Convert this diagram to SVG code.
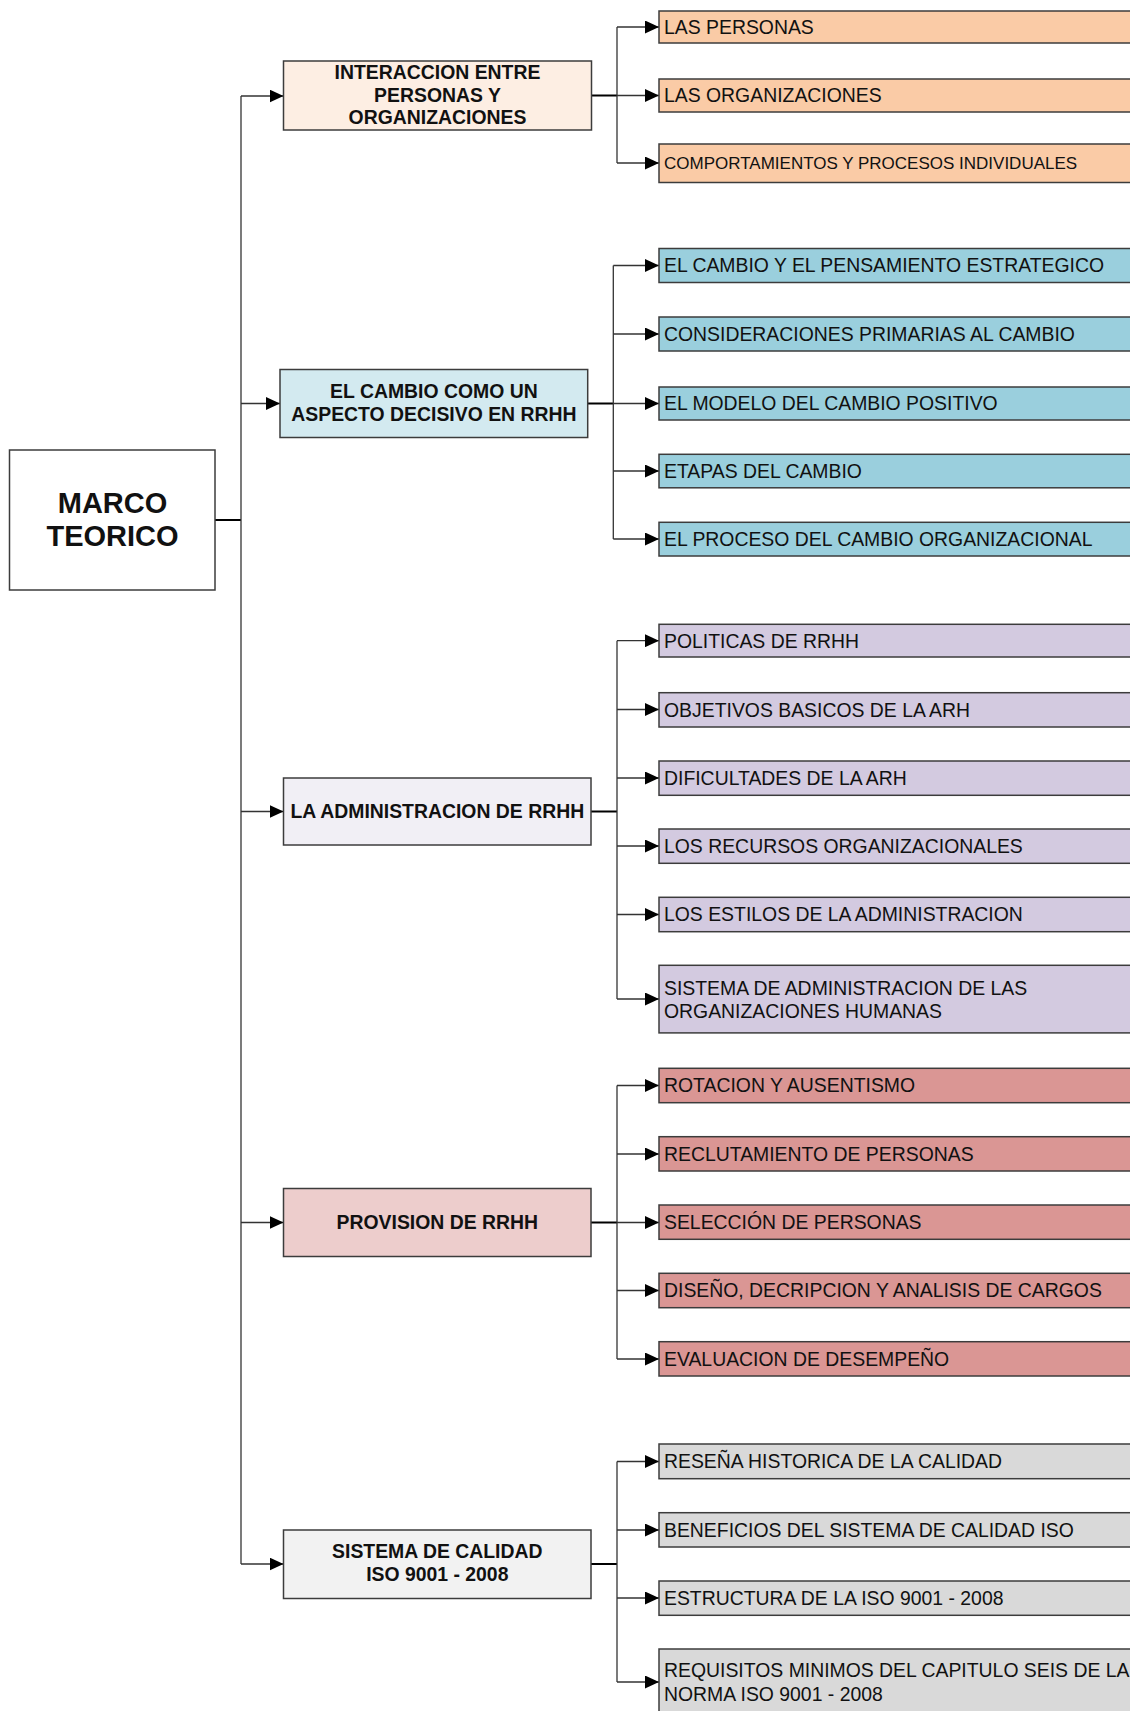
<svg xmlns="http://www.w3.org/2000/svg" width="1130" height="1711" viewBox="0 0 1130 1711">
  <defs>
    <marker id="arrow" markerUnits="userSpaceOnUse" markerWidth="14" markerHeight="13" refX="14" refY="6.5" orient="auto">
      <path d="M0,0 L14,6.5 L0,13 Z" fill="#000"/>
    </marker>
    <style>
      .box { stroke: #3c3c3c; stroke-width: 1.5; }
      .root { fill: #ffffff; }
      .t1 { font-family: "Liberation Sans", Arial, sans-serif; font-weight: bold; font-size: 19.4px; fill: #111; text-anchor: middle; }
      .t0 { font-family: "Liberation Sans", Arial, sans-serif; font-weight: bold; font-size: 29px; fill: #111; text-anchor: middle; }
      .t2 { font-family: "Liberation Sans", Arial, sans-serif; font-size: 19.4px; fill: #111; }
      .t2s { font-family: "Liberation Sans", Arial, sans-serif; font-size: 17px; fill: #111; }
      .link { fill: none; stroke: #333; stroke-width: 1.3; }
      .stem { fill: none; stroke: #000; stroke-width: 2; }
      .arr { fill: none; stroke: #333; stroke-width: 1.3; marker-end: url(#arrow); }
      .c1 { fill: #fdeee3; } .k1 { fill: #facba6; }
      .c2 { fill: #d3eaf0; } .k2 { fill: #9acfdd; }
      .c3 { fill: #f1eff5; } .k3 { fill: #d3cae0; }
      .c4 { fill: #edcdcc; } .k4 { fill: #da9694; }
      .c5 { fill: #f2f2f2; } .k5 { fill: #d9d9d9; }
    </style>
  </defs>
  <rect width="1130" height="1711" fill="#ffffff"/>

  <!-- connectors -->
  <g id="connectors">
    <!-- root to trunk -->
    <path class="stem" d="M215,520 H241"/>
    <path class="link" d="M241,96 V1564"/>
    <path class="arr" d="M241,96 H283.5"/>
    <path class="arr" d="M241,403.5 H280"/>
    <path class="arr" d="M241,811.5 H283.5"/>
    <path class="arr" d="M241,1222.5 H283.5"/>
    <path class="arr" d="M241,1564 H283.5"/>

    <!-- group 1 -->
    <path class="stem" d="M591.5,95.5 H617"/>
    <path class="link" d="M617,27 V163"/>
    <path class="arr" d="M617,27 H659"/>
    <path class="arr" d="M617,95.5 H659"/>
    <path class="arr" d="M617,163 H659"/>

    <!-- group 2 -->
    <path class="stem" d="M587.7,403.5 H613.3"/>
    <path class="link" d="M613.3,265.5 V539"/>
    <path class="arr" d="M613.3,265.5 H659"/>
    <path class="arr" d="M613.3,334 H659"/>
    <path class="arr" d="M613.3,403.5 H659"/>
    <path class="arr" d="M613.3,471 H659"/>
    <path class="arr" d="M613.3,539 H659"/>

    <!-- group 3 -->
    <path class="stem" d="M591,811.5 H617"/>
    <path class="link" d="M617,640.7 V999"/>
    <path class="arr" d="M617,640.7 H659"/>
    <path class="arr" d="M617,709.5 H659"/>
    <path class="arr" d="M617,778 H659"/>
    <path class="arr" d="M617,846 H659"/>
    <path class="arr" d="M617,914.5 H659"/>
    <path class="arr" d="M617,999 H659"/>

    <!-- group 4 -->
    <path class="stem" d="M591,1222.5 H617"/>
    <path class="link" d="M617,1085.5 V1359"/>
    <path class="arr" d="M617,1085.5 H659"/>
    <path class="arr" d="M617,1154 H659"/>
    <path class="arr" d="M617,1222.5 H659"/>
    <path class="arr" d="M617,1290.5 H659"/>
    <path class="arr" d="M617,1359 H659"/>

    <!-- group 5 -->
    <path class="stem" d="M591,1564 H617"/>
    <path class="link" d="M617,1461.5 V1682"/>
    <path class="arr" d="M617,1461.5 H659"/>
    <path class="arr" d="M617,1530 H659"/>
    <path class="arr" d="M617,1598 H659"/>
    <path class="arr" d="M617,1682 H659"/>
  </g>

  <!-- root -->
  <g id="marco-teorico">
    <rect class="box root" x="9.5" y="450" width="205.5" height="140"/>
    <text class="t0" x="112.5" y="512.5">MARCO</text>
    <text class="t0" x="112.5" y="545.5">TEORICO</text>
  </g>

  <!-- first level -->
  <g id="interaccion">
    <rect class="box c1" x="283.5" y="61" width="308" height="69"/>
    <text class="t1" x="437.5" y="78.5">INTERACCION ENTRE</text>
    <text class="t1" x="437.5" y="101.5">PERSONAS Y</text>
    <text class="t1" x="437.5" y="124">ORGANIZACIONES</text>
  </g>
  <g id="el-cambio">
    <rect class="box c2" x="280" y="369.5" width="307.7" height="68"/>
    <text class="t1" x="433.9" y="398">EL CAMBIO COMO UN</text>
    <text class="t1" x="433.9" y="421">ASPECTO DECISIVO EN RRHH</text>
  </g>
  <g id="administracion">
    <rect class="box c3" x="283.5" y="778" width="307.5" height="67"/>
    <text class="t1" x="437.3" y="818">LA ADMINISTRACION DE RRHH</text>
  </g>
  <g id="provision">
    <rect class="box c4" x="283.5" y="1188.5" width="307.5" height="68"/>
    <text class="t1" x="437.3" y="1229">PROVISION DE RRHH</text>
  </g>
  <g id="calidad">
    <rect class="box c5" x="283.5" y="1530" width="307.5" height="68.5"/>
    <text class="t1" x="437.3" y="1558">SISTEMA DE CALIDAD</text>
    <text class="t1" x="437.3" y="1581">ISO 9001 - 2008</text>
  </g>

  <!-- group 1 topics -->
  <g id="las-personas">
    <rect class="box k1" x="659" y="11" width="480" height="32"/>
    <text class="t2" x="664" y="33.5">LAS PERSONAS</text>
  </g>
  <g id="las-organizaciones">
    <rect class="box k1" x="659" y="79" width="480" height="33"/>
    <text class="t2" x="664" y="102">LAS ORGANIZACIONES</text>
  </g>
  <g id="comportamientos">
    <rect class="box k1" x="659" y="144" width="480" height="38.5"/>
    <text class="t2s" x="664" y="169">COMPORTAMIENTOS Y PROCESOS INDIVIDUALES</text>
  </g>

  <!-- group 2 topics -->
  <g id="cambio-estrategico">
    <rect class="box k2" x="659" y="248.5" width="480" height="34"/>
    <text class="t2" x="664" y="272.3">EL CAMBIO Y EL PENSAMIENTO ESTRATEGICO</text>
  </g>
  <g id="consideraciones">
    <rect class="box k2" x="659" y="317" width="480" height="34"/>
    <text class="t2" x="664" y="340.8">CONSIDERACIONES PRIMARIAS AL CAMBIO</text>
  </g>
  <g id="modelo-cambio">
    <rect class="box k2" x="659" y="387" width="480" height="33"/>
    <text class="t2" x="664" y="410.3">EL MODELO DEL CAMBIO POSITIVO</text>
  </g>
  <g id="etapas">
    <rect class="box k2" x="659" y="454.3" width="480" height="33.5"/>
    <text class="t2" x="664" y="477.8">ETAPAS DEL CAMBIO</text>
  </g>
  <g id="proceso-cambio">
    <rect class="box k2" x="659" y="522.3" width="480" height="33.7"/>
    <text class="t2" x="664" y="546">EL PROCESO DEL CAMBIO ORGANIZACIONAL</text>
  </g>

  <!-- group 3 topics -->
  <g id="politicas">
    <rect class="box k3" x="659" y="624.3" width="480" height="32.7"/>
    <text class="t2" x="664" y="647.5">POLITICAS DE RRHH</text>
  </g>
  <g id="objetivos">
    <rect class="box k3" x="659" y="692.7" width="480" height="34.3"/>
    <text class="t2" x="664" y="716.5">OBJETIVOS BASICOS DE LA ARH</text>
  </g>
  <g id="dificultades">
    <rect class="box k3" x="659" y="761" width="480" height="34.3"/>
    <text class="t2" x="664" y="784.8">DIFICULTADES DE LA ARH</text>
  </g>
  <g id="recursos">
    <rect class="box k3" x="659" y="829" width="480" height="34.3"/>
    <text class="t2" x="664" y="852.8">LOS RECURSOS ORGANIZACIONALES</text>
  </g>
  <g id="estilos">
    <rect class="box k3" x="659" y="897.3" width="480" height="34.4"/>
    <text class="t2" x="664" y="921.2">LOS ESTILOS DE LA ADMINISTRACION</text>
  </g>
  <g id="sistema-administracion">
    <rect class="box k3" x="659" y="965.3" width="480" height="67.6"/>
    <text class="t2" x="664" y="994.5">SISTEMA DE ADMINISTRACION DE LAS</text>
    <text class="t2" x="664" y="1017.5">ORGANIZACIONES HUMANAS</text>
  </g>

  <!-- group 4 topics -->
  <g id="rotacion">
    <rect class="box k4" x="659" y="1068.3" width="480" height="34.4"/>
    <text class="t2" x="664" y="1092.3">ROTACION Y AUSENTISMO</text>
  </g>
  <g id="reclutamiento">
    <rect class="box k4" x="659" y="1136.7" width="480" height="34.3"/>
    <text class="t2" x="664" y="1160.7">RECLUTAMIENTO DE PERSONAS</text>
  </g>
  <g id="seleccion">
    <rect class="box k4" x="659" y="1205" width="480" height="34.3"/>
    <text class="t2" x="664" y="1229">SELECCIÓN DE PERSONAS</text>
  </g>
  <g id="diseno-cargos">
    <rect class="box k4" x="659" y="1273.3" width="480" height="34.4"/>
    <text class="t2" x="664" y="1297.3">DISEÑO, DECRIPCION Y ANALISIS DE CARGOS</text>
  </g>
  <g id="evaluacion">
    <rect class="box k4" x="659" y="1341.7" width="480" height="34.3"/>
    <text class="t2" x="664" y="1365.7">EVALUACION DE DESEMPEÑO</text>
  </g>

  <!-- group 5 topics -->
  <g id="resena">
    <rect class="box k5" x="659" y="1444" width="480" height="34.7"/>
    <text class="t2" x="664" y="1468.2">RESEÑA HISTORICA DE LA CALIDAD</text>
  </g>
  <g id="beneficios">
    <rect class="box k5" x="659" y="1512.7" width="480" height="34.3"/>
    <text class="t2" x="664" y="1536.7">BENEFICIOS DEL SISTEMA DE CALIDAD ISO</text>
  </g>
  <g id="estructura">
    <rect class="box k5" x="659" y="1581" width="480" height="34.3"/>
    <text class="t2" x="664" y="1605">ESTRUCTURA DE LA ISO 9001 - 2008</text>
  </g>
  <g id="requisitos">
    <rect class="box k5" x="659" y="1649" width="480" height="68"/>
    <text class="t2" x="664" y="1677">REQUISITOS MINIMOS DEL CAPITULO SEIS DE LA</text>
    <text class="t2" x="664" y="1700.5">NORMA ISO 9001 - 2008</text>
  </g>
</svg>
